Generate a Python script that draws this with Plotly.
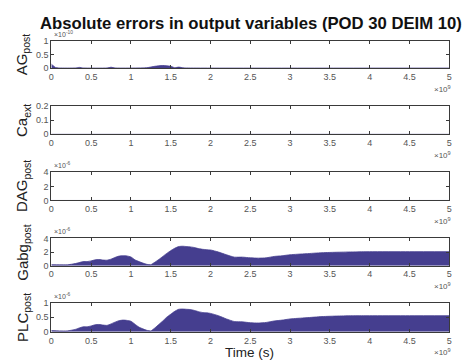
import plotly.graph_objects as go

# ---------------- data ----------------
title_text = "Absolute errors in output variables (POD 30 DEIM 10)"
panel_labels = ["AG<sub>post</sub>", "Ca<sub>ext</sub>", "DAG<sub>post</sub>", "Gabg<sub>post</sub>", "PLC<sub>post</sub>"]
x_tick_labels = ["0", "0.5", "1", "1.5", "2", "2.5", "3", "3.5", "4", "4.5", "5"]
x_scale = 1e9

# AG_post (units of 1e-10)
t_ag = [0, 0.02, 0.05, 0.1, 0.3, 0.35, 0.4, 0.7, 0.75, 0.8, 1.2, 1.3, 1.4, 1.5, 1.55, 1.6, 1.65, 1.7, 2.0, 5.0]
ag_vals = [0.15, 0.1, 0.03, 0.01, 0.01, 0.03, 0.01, 0.01, 0.035, 0.01, 0.02, 0.07, 0.1, 0.07, 0.02, 0.04, 0.02, 0.01, 0.005, 0.005]

# Ca_ext and DAG_post (zero error)
t_flat = [0, 5.0]
ca_vals = [0, 0]
dag_vals = [0, 0]

# Gabg_post and PLC_post (units of 1e-6)
t_main = [0, 0.1, 0.2, 0.3, 0.35, 0.4, 0.45, 0.5, 0.55, 0.6, 0.65, 0.7, 0.75, 0.8, 0.85, 0.9, 0.95,
          1.0, 1.05, 1.1, 1.15, 1.2, 1.25, 1.3, 1.35, 1.4, 1.45, 1.5, 1.55, 1.6, 1.65, 1.7, 1.75,
          1.8, 1.85, 1.9, 1.95, 2.0, 2.1, 2.2, 2.3, 2.4, 2.5, 2.6, 2.7, 2.8, 2.9, 3.0, 3.2, 3.4,
          3.6, 3.8, 4.0, 4.5, 5.0]
gabg_vals = [0.14, 0.12, 0.12, 0.3, 0.45, 0.6, 0.6, 0.7, 0.85, 0.9, 0.82, 0.8, 0.95, 1.2, 1.4, 1.45, 1.42,
             1.27, 0.85, 0.6, 0.38, 0.19, 0.14, 0.5, 0.9, 1.35, 1.8, 2.2, 2.55, 2.8, 2.85, 2.8, 2.75,
             2.65, 2.5, 2.4, 2.35, 2.3, 2.0, 1.6, 1.25, 1.25, 1.15, 1.1, 1.15, 1.35, 1.45, 1.6, 1.75, 1.9,
             1.97, 2.02, 2.05, 2.05, 2.05]
plc_vals = [0.04, 0.03, 0.03, 0.08, 0.13, 0.17, 0.17, 0.2, 0.24, 0.25, 0.23, 0.22, 0.27, 0.33, 0.38, 0.4, 0.39,
            0.36, 0.26, 0.16, 0.1, 0.05, 0.03, 0.13, 0.25, 0.37, 0.5, 0.6, 0.7, 0.77, 0.78, 0.77, 0.76,
            0.73, 0.69, 0.66, 0.65, 0.63, 0.55, 0.44, 0.35, 0.34, 0.31, 0.3, 0.32, 0.37, 0.4, 0.44, 0.48, 0.52,
            0.54, 0.55, 0.55, 0.55, 0.55]

series = [
    (t_ag, ag_vals, 1e-10, [0, 0.5, 1], ["0", "0.5", "1"], "×10<sup>-10</sup>"),
    (t_flat, ca_vals, 1.0, [0, 0.1, 0.2], ["0", "0.1", "0.2"], None),
    (t_flat, dag_vals, 1e-6, [0, 2, 4], ["0", "2", "4"], "×10<sup>-6</sup>"),
    (t_main, gabg_vals, 1e-6, [0, 2, 4], ["0", "2", "4"], "×10<sup>-6</sup>"),
    (t_main, plc_vals, 1e-6, [0, 0.5, 1], ["0", "0.5", "1"], "×10<sup>-6</sup>"),
]

# ---------------- layout helpers ----------------
W, H = 469, 364
panel_px = [(37, 65), (104, 133), (172, 201), (240, 268), (306, 336)]
x0_px, x1_px = 49, 452
fill_color = "#453e8f"
axis_color = "#3a3a3a"
FONT = "Liberation Sans, Arial, sans-serif"
tick_font = dict(family=FONT, size=9, color="#555555")

fig = go.Figure()
annotations = []
layout_axes = {}

for i, (t, v, sc, tv, tt, exp) in enumerate(series):
    n = i + 1
    xa = "x" if n == 1 else f"x{n}"
    ya = "y" if n == 1 else f"y{n}"
    fig.add_trace(go.Scatter(
        x=[a * x_scale for a in t], y=[b * sc for b in v],
        mode="lines", line=dict(color=fill_color, width=0.8, shape="spline", smoothing=0.6),
        fill="tozeroy", fillcolor=fill_color,
        xaxis=xa, yaxis=ya, showlegend=False, hoverinfo="skip"))
    top, bot = panel_px[i]
    dom_y = [1 - bot / H, 1 - top / H]
    xkey = "xaxis" if n == 1 else f"xaxis{n}"
    ykey = "yaxis" if n == 1 else f"yaxis{n}"
    layout_axes[xkey] = dict(
        domain=[x0_px / W, x1_px / W], anchor=ya, range=[0, 5 * x_scale],
        tickvals=[k * 0.5 * x_scale for k in range(11)], ticktext=x_tick_labels,
        ticks="inside", ticklen=3, tickcolor=axis_color, showline=True, linecolor=axis_color,
        linewidth=1, mirror="allticks", showgrid=False, zeroline=False, tickfont=tick_font,
        fixedrange=True)
    layout_axes[ykey] = dict(
        domain=dom_y, anchor=xa, range=[tv[0] * sc, tv[-1] * sc],
        tickvals=[a * sc for a in tv], ticktext=tt,
        ticks="inside", ticklen=3, tickcolor=axis_color, showline=True, linecolor=axis_color,
        linewidth=1, mirror="allticks", showgrid=False, zeroline=False, tickfont=tick_font,
        fixedrange=True)
    # y label
    annotations.append(dict(
        text=panel_labels[i], xref="paper", yref="paper",
        x=20 / W, y=(dom_y[0] + dom_y[1]) / 2, textangle=-90, showarrow=False,
        font=dict(family=FONT, size=15, color="#222222"),
        xanchor="center", yanchor="middle"))
    # y exponent
    if exp:
        annotations.append(dict(
            text=exp, xref="paper", yref="paper", x=(x0_px + 1) / W, y=1 - (top - 1) / H,
            showarrow=False, xanchor="left", yanchor="bottom",
            font=dict(family=FONT, size=7, color="#555555")))
    # x exponent
    annotations.append(dict(
        text="×10<sup>9</sup>", xref="paper", yref="paper", x=456 / W, y=1 - (bot + 14) / H,
        showarrow=False, xanchor="right", yanchor="top",
        font=dict(family=FONT, size=8, color="#555555")))

annotations.append(dict(
    text="<b>" + title_text + "</b>", xref="paper", yref="paper", x=251 / W, y=1 - 19 / H,
    showarrow=False, xanchor="center", yanchor="middle",
    font=dict(family=FONT, size=16.7, color="#111111")))
annotations.append(dict(
    text="Time (s)", xref="paper", yref="paper", x=250 / W, y=1 - 357 / H,
    showarrow=False, xanchor="center", yanchor="middle",
    font=dict(family=FONT, size=13.5, color="#222222")))

fig.update_layout(
    width=W, height=H, margin=dict(l=0, r=0, t=0, b=0),
    paper_bgcolor="white", plot_bgcolor="white",
    annotations=annotations, **layout_axes)

fig.write_html("out.html", config={"displayModeBar": False})
